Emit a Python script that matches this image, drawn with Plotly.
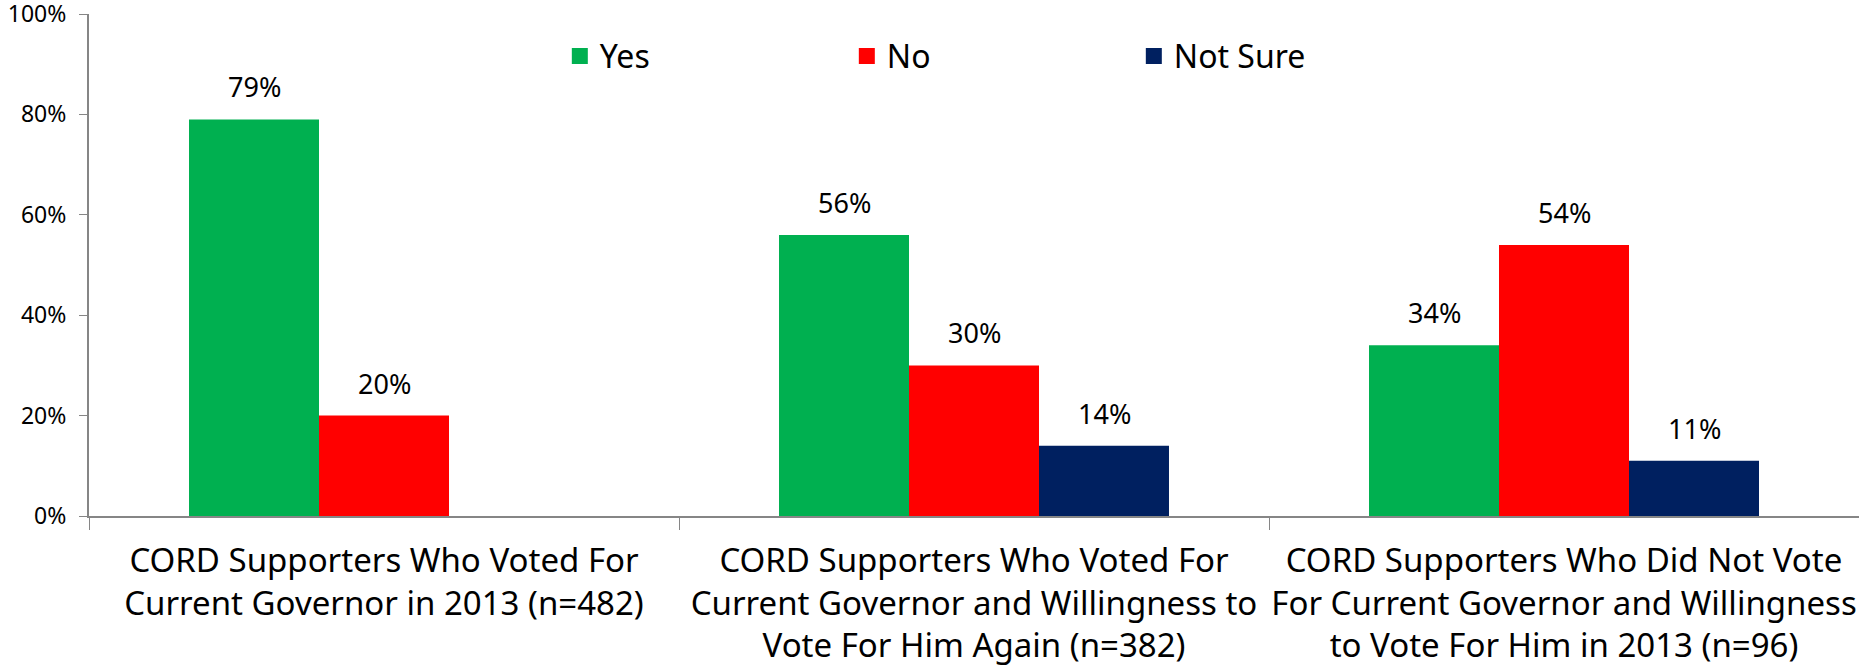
import plotly.graph_objects as go

categories = [
    "CORD Supporters Who Voted For<br>Current Governor in 2013 (n=482)",
    "CORD Supporters Who Voted For<br>Current Governor and Willingness to<br>Vote For Him Again (n=382)",
    "CORD Supporters Who Did Not Vote<br>For Current Governor and Willingness<br>to Vote For Him in 2013 (n=96)",
]
series_names = ["Yes", "No", "Not Sure"]
yes_vals = [79, 56, 34]
no_vals = [20, 30, 54]
notsure_vals = [None, 14, 11]
colors = ["#00B050", "#FF0000", "#002060"]
y_ticks = [0, 20, 40, 60, 80, 100]
y_tick_labels = ["0%", "20%", "40%", "60%", "80%", "100%"]

FONT = "Noto Sans, Open Sans, sans-serif"
W, H = 1859, 671
ML, MR, MT, MB = 89, 0, 14, 155
BAR_PX = 130

fig = go.Figure()
all_vals = [yes_vals, no_vals, notsure_vals]
for name, vals, col in zip(series_names, all_vals, colors):
    fig.add_trace(go.Bar(
        name=name, x=categories, y=vals, showlegend=False,
        marker=dict(color=col, line=dict(width=0)),
    ))
# legend proxies (larger square swatches)
for name, col in zip(series_names, colors):
    fig.add_trace(go.Scatter(
        name=name, x=[None], y=[None], mode="markers", showlegend=True,
        marker=dict(symbol="square", size=16, color=col, line=dict(width=0)),
    ))

annotations = []
for i, vals in enumerate(all_vals):
    for cat, v in zip(categories, vals):
        if v is None:
            continue
        annotations.append(dict(
            x=cat, y=v, xref="x", yref="y", text=f"{v}%", showarrow=False,
            xanchor="center", yanchor="bottom", xshift=(i - 1) * BAR_PX, yshift=12,
            font=dict(family=FONT, size=27, color="#000000"),
        ))

fig.update_layout(
    width=W, height=H,
    margin=dict(l=ML, r=MR, t=MT, b=MB, pad=0, autoexpand=False),
    paper_bgcolor="white", plot_bgcolor="white",
    barmode="group", bargap=0.339, bargroupgap=0,
    font=dict(family=FONT, size=27, color="#000000"),
    showlegend=True,
    legend=dict(
        orientation="h", x=0.266, xanchor="left", y=0.916, yanchor="middle",
        entrywidth=242, entrywidthmode="pixels",
        font=dict(family=FONT, size=32, color="#000000"),
        bgcolor="rgba(0,0,0,0)", itemclick=False,
    ),
    annotations=annotations,
)
fig.update_xaxes(
    type="category", showline=True, linecolor="#868686", linewidth=2,
    ticks="outside", tickson="boundaries", ticklen=12, tickcolor="#868686", tickwidth=1,
    tickfont=dict(family=FONT, size=33, color="#000000"), tickangle=0,
    showgrid=False, zeroline=False, ticklabelstandoff=14, automargin=False,
)
fig.update_yaxes(
    range=[0, 100], tickvals=y_ticks, ticktext=y_tick_labels,
    showline=True, linecolor="#868686", linewidth=2,
    ticks="outside", ticklen=8, tickcolor="#868686", tickwidth=1,
    tickfont=dict(family=FONT, size=23, color="#000000"),
    showgrid=False, zeroline=False, ticklabelstandoff=8, automargin=False,
    ticklabeloverflow="allow",
)

fig.write_html(
    "out.html",
    config={"displayModeBar": False},
    post_script="document.body.style.margin='0';document.body.style.overflow='hidden';",
)
